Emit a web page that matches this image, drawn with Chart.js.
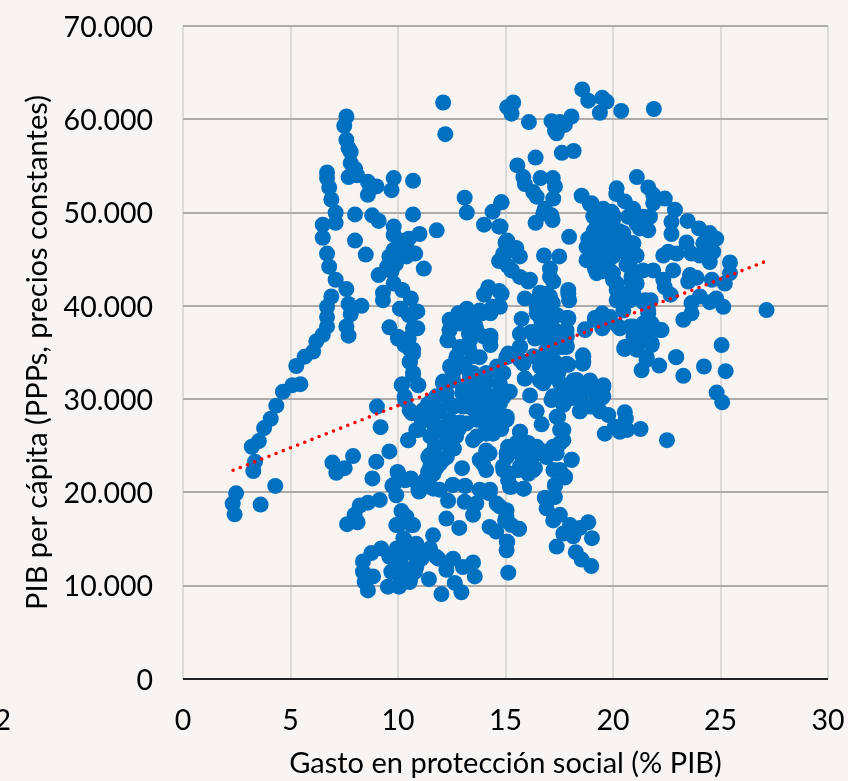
<!DOCTYPE html>
<html><head><meta charset="utf-8">
<style>html,body{margin:0;padding:0;background:#F7F4F1;overflow:hidden}#w{width:848px;height:781px;position:relative}</style>
<script src="https://cdn.jsdelivr.net/npm/chart.js@4"></script></head>
<body><div id="w"><canvas id="c" width="848" height="781"></canvas></div>
<script>
// [gasto % PIB, PIB per cápita in thousands]
const cadenaIzquierda=[[7.6,60.3],[7.5,59.3],[7.6,57.8],[7.7,56.9],[7.8,56.5],[7.8,55.3],[8,54.7],[7.7,53.8],[8.1,54],[8.6,53.3],[9,52.8],[8.6,51.9],[8.7,52.8],[9.8,53.7],[9.7,52.4],[10.7,53.4],[6.7,54.3],[6.7,53.7],[6.8,52.7],[6.9,51.4],[7.1,50],[7.1,48.9],[6.5,48.7],[6.5,47.3],[6.7,45.6],[6.8,44.2],[7.1,42.8],[7.6,41.8],[6.9,41],[6.7,39.9],[6.7,38.8],[6.7,37.8],[6.5,36.9],[6.2,36.2],[7.7,40.2],[8.3,40],[7.8,39.1],[7.6,37.8],[7.7,36.8],[5.27,33.55],[5.66,34.55],[6.05,35.1],[5.46,31.6],[5.09,31.5],[4.65,30.8],[4.34,29.3],[4.08,27.9],[3.77,26.9],[3.53,25.5],[3.2,24.9],[3.35,23.3],[3.27,22.3],[4.29,20.7],[3.61,18.7],[2.47,19.9],[2.31,18.8],[2.4,17.65]];
const grupoDiezCuarenta=[[8,49.8],[8.8,49.7],[9.1,49.1],[8,47],[8.5,45.5],[9.1,43.3],[10.7,49.8],[11.8,48.1],[11,47.7],[11.2,44],[9.8,48.5],[9.8,47.6],[10.1,47],[10.5,47.2],[10.8,45.6],[10.4,45.3],[9.8,46],[10.1,46],[10.4,46.2],[9.6,45.3],[9.5,44.2],[9.9,44.5],[9.7,43.7],[9.8,42.4],[10.2,41.7],[9.3,41.4],[9.3,40.6],[10.6,40.8],[10.1,39.7],[10.9,39.4],[10.5,39],[9.6,37.7],[10.9,37.6],[10,36.5],[10.5,36.5],[10.7,35.3],[10.54,34],[10.7,34.9],[10.3,35.8],[10.7,32.8],[10.93,31.5],[10.2,31.6],[10.31,30.3],[10.54,28.8],[11.16,28.8],[10.85,26.7],[10.47,25.6],[9.02,29.2],[9.19,27],[10.1,39.7],[10.7,39.2],[10.7,37.6],[10,36.7],[10.56,35.3],[10.56,34],[10.7,32.6],[10.17,31.5],[10.95,31.5],[10.33,29.9],[10.64,28.5],[11.18,27.8],[10.48,25.6],[10.95,26.7]];
const grupoDoceCincuenta=[[12.1,61.8],[12.2,58.4],[13.1,51.6],[13.2,50],[14,48.7],[14.7,48.5],[14.4,50.1],[14.8,51.1],[14.2,42],[14,41.2],[14.7,41.6],[14.5,39.9],[14.3,39.2],[13.8,39.5],[13.2,39.7],[12.8,39.2],[12.4,38.5],[13.6,37.9],[12.4,37.4],[12.3,36.3],[14.3,36.8],[14.3,35.8],[13.3,37],[12.9,38.1],[14,36.7],[15,46.8],[15.3,46.2],[14.9,45.2],[14.7,44.8],[15.1,44.3],[15.5,45.8],[15.3,43.8]];
const grupoCentral=[[12.09,31.7],[11.78,30.3],[11.78,28.5],[11.63,27.4],[11.55,26],[11.47,24],[11.4,22.2],[12.25,25.3],[12.09,23.5],[11.78,22.6],[12.7,26],[12.4,27.8],[12.4,29.5],[13.02,29.2],[13.02,31],[12.56,32.8],[12.7,34.2],[12.87,35.6],[13.49,32.8],[13.8,34.5],[13.64,30.3],[13.64,28.1],[13.49,25.6],[14.26,24.2],[13.95,23.1],[14.73,31.7],[15.04,34.5],[14.57,33.1],[14.26,30.3],[14.73,28.5],[14.42,26.3],[15.12,24.9],[14.88,22.8],[15.12,21.3],[13.18,27.4],[13.95,28.1],[12.2,30.4],[13.3,35.4],[13.5,29],[12.9,27.5],[14.1,32],[14.4,29],[13,33.5],[13.6,31.5],[14.9,30.2],[14.8,26.8],[11.4,29.5],[11.1,27.8],[12.1,26.9],[12.6,24.7],[14.1,26.9]];
const rellenoCentral=[[13.2,39.6],[12.9,38.8],[12.5,38.3],[12.4,37.4],[12.34,36.3],[13.5,38.5],[13.9,39.2],[14.4,39.9],[14.3,36.5],[13.35,36.3],[13.66,37.4],[13.1,35.6],[12.73,34.6],[12.42,33.5],[13.1,33.8],[12.1,31.9],[12.58,32],[13.35,32.4],[13.5,34.6],[14.1,32.8],[14.6,33.5],[15.13,34.6],[14.9,32.8],[14,31.3],[14.75,31.3],[15.2,30.8],[13,30.6],[12.27,30.6],[11.65,29.9],[11.3,28.5],[11.95,28.8],[12.6,29.2],[13.35,29.2],[13.97,29.6],[14.75,29.6],[15.06,28.1],[14.44,28.1],[13.66,27.8],[12.73,27.4],[11.95,27],[11.5,26],[12.27,26],[12.8,26.7],[13.66,26],[14.1,26.3],[14.75,27],[15.68,26.5],[15.44,24.9],[16.06,25.1],[16.45,24.2],[16.9,23.8],[17.54,25.3],[17.54,26.7],[17.38,28.1],[18.08,23.5],[17.77,21.7],[17.23,22.4],[17.3,20.8],[17.23,19.5],[16.84,19.4],[15.83,20.4],[15.2,20.6],[14.9,22.4],[15.6,22.4],[16.3,22.4],[15.06,23.8],[15.83,23.5],[14.1,22.4],[13.8,23.5],[14.1,24.5],[14.28,20.3],[13.97,20.1],[13.12,20.7],[12.54,20.8],[11.95,23.1],[11.65,22],[11.41,23.8],[11.72,24.9],[12.27,23.8],[11.5,22.8],[11.26,21.3],[10.6,21.4],[10,22.1],[10.95,20.3],[11.65,20.4],[12.98,22.6]];
const grupoDieciseisSesenta=[[15.36,61.8],[15.08,61.3],[15.28,60.6],[16.09,59.7],[17.14,59.8],[17.53,59.7],[18.07,60.3],[17.76,59.4],[17.3,58.8],[17.38,58.5],[18.57,63.2],[18.85,62],[19.5,62.3],[19.7,61.9],[19.39,60.7],[20.38,60.9],[21.9,61.1],[17.62,56.4],[18.17,56.6],[16.4,55.9],[15.55,55.05],[15.83,53.8],[15.9,53.05],[16.63,53.7],[17.2,53.7],[17.3,52.8],[16.29,52.2],[16.45,51.7],[17.22,51.5],[16.83,50.4],[16.76,49.9],[16.4,48.9],[17.14,49.7],[17.19,49.2],[14.82,51.1],[14.77,48.5],[17.96,47.4]];
const grupoVeinteCincuenta=[[18.54,51.8],[18.93,50.9],[20.17,52.6],[20.15,52],[20.55,51.2],[21.11,53.8],[21.64,52.7],[21.87,51.9],[22.41,51.5],[21.87,51],[22.88,50.3],[22.72,49],[22.72,47.7],[23.47,49.1],[24,48.3],[24.5,47.8],[24.8,47.2],[23.42,46.8],[24.2,46.7],[24.66,45.8],[23.65,45.6],[24.04,45.4],[24.5,44.7],[25.44,44.65],[25.44,43.5],[25.2,42.4],[24.6,42.8],[23.58,43.3],[23.89,43],[23.5,42.6],[22.34,45.4],[22.57,45.8],[22.96,45.6],[22.8,43.8],[21.87,43.8],[21.4,43.8],[22.34,42.8],[22.41,42],[22.68,41.2],[23.65,40.3],[24.5,40.4],[24.8,40.8],[24.04,41],[25.13,39.9],[27.14,39.55],[23.27,38.5],[23.65,39.2],[22.26,37.4],[21.75,40.6],[21.4,40.4],[21.64,39.2],[21.8,38.1],[21.56,37],[21.8,36],[20.55,35.6],[21.17,36],[20.94,37.8],[20.32,37.6],[20.17,40.6],[20.79,40.6],[20.48,41.3],[20.86,42.6],[20.17,42.4],[20,43.5],[19.5,39.2],[19.16,38.7],[19.5,37.6],[18.7,37.5],[19.08,49.6],[19.4,50],[19.93,50.1],[19.55,50.4],[20.02,49.7],[19.24,48.5],[19.7,48.8],[20,49.2],[18.85,47.2],[19.39,47.4],[19.86,47.6],[18.77,46.3],[19.16,46.2],[19.7,46.3],[18.77,44.9],[19.16,44],[19.55,44.9],[20,45.3],[20.48,47.4],[20.86,46.7],[21.1,45.4],[20.63,45.6],[20.63,44.4],[20.94,50.4],[21.4,49.55],[21.72,49.55],[21.64,48.1],[21.1,48.8],[20.71,49.55],[21.25,48.3],[20.86,43.1],[21.1,42.4],[19.3,45.5],[19.5,43.7],[20.2,46.5],[20.3,48],[19.1,48]];
const rellenoVeinte=[[20.95,49.9],[19.24,50.3],[19,51],[20.48,47.8],[20.95,46.7],[20.79,44.2],[19.86,43.8],[19.4,44.2],[19.24,43.5],[20,42.8],[20.17,41.7],[20.95,42.4],[20.95,41.3],[21.49,40.6],[21.64,39.5],[22.18,37.4],[20.56,35.4],[21.1,35.6],[21.57,34.5],[22.93,34.5],[20.25,37.8],[20.79,37.8],[21.4,38.1],[20.95,36.7],[19.55,37.8],[20.48,39.5],[19.86,38.8],[19.4,38.8]];
const grupoDieciseisCuarenta=[[17.92,38.6],[17.92,41.7],[17.96,40.6],[17.22,42.6],[17.07,44],[16.79,45.4],[17.5,45.3],[15.75,38.6],[15.67,37],[16.06,42.6],[15.67,43.1],[15.28,43.8],[15.67,45.3],[15.5,46.2],[15.08,47],[14.9,45.6],[14.82,41.3],[14.74,39.9],[15.9,40.8],[16.45,40.6],[16.76,39.9],[17.07,41],[16.45,39.2],[16.68,38.1],[17.3,37.4],[17.84,37.4],[16.76,36.7],[16.37,36.5],[17.3,36],[17.84,35.8],[16.6,41.4],[17.4,39],[17,38],[16.2,37.2],[16.14,42.8],[17.07,43.1],[17.92,41.3],[16.9,41.3],[17.2,40.3],[16.6,38.8],[17.07,39.2],[17.92,38.7],[17.77,37],[17.85,35.6],[17.07,37.8],[16.6,37.05],[18.62,34.6],[18.62,34],[18.7,37.4],[19.16,38.5],[15.9,32.2],[17.85,33.8],[16.9,33.1],[17.54,31.7],[18.31,32],[18.93,32],[19.55,31.3],[19.55,30.3],[16.45,39.9],[16.9,38.8],[17.85,38.7],[16.6,36.7],[17.07,37.4],[17.85,36.7],[17.54,35.6],[16.9,35.3],[16.3,34.6],[15.83,33.8],[16.6,33.5],[17.38,33.8],[17.9,33.7],[16.6,32],[17.2,32.4],[18.16,32],[18.47,30.3],[17.85,30.6],[17.2,30.3],[19.09,29.2],[18.47,28.7],[15.68,35.6]];
const grupoDieciseisTreinta=[[18.6,34.7],[18.6,33.8],[17.92,33.7],[17.45,32.8],[16.14,30.4],[15.9,32.2],[16.45,28.7],[16.68,27.3],[15.13,34.9],[15.13,30.8],[15.05,27.8],[15.67,26.5],[15.67,35.6],[16.76,31.7],[16.91,32.8],[15.67,34.2],[16.6,34.2],[17.22,34.2],[17.69,35.6],[17.14,29.9],[17.45,28.1],[17.69,26.7],[17.69,25.6],[17.22,24.9],[18.07,23.5],[17.76,21.6],[17.3,20.7],[17.3,19.5],[16.83,19.4],[16.91,18.3],[17.53,17.6],[17.22,17],[18,16.5],[18.85,16.8],[18.46,16.2],[17.69,15.6],[18.15,15.3],[19.02,15.1],[17.38,14.2],[18.27,13.6],[18.54,12.8],[18.99,12.1],[15.13,11.4],[15.05,13.8],[15.08,14.7],[15.62,16.1],[15.05,18.1],[15.86,20.4],[15.28,20.6],[16.37,22.6],[16.06,22],[15.67,22.8],[15.2,22],[16.21,24],[15.67,24.2],[15.05,24.2],[16.45,24.9],[15.51,25.3],[16.06,25.3],[16.76,24.4],[17.38,24.2],[17.53,22.4],[18.46,28.7],[18.93,29.2],[19.39,28.7],[19.78,28.3],[19.62,26.3],[20.09,27.05],[20.32,26.5],[20.66,26.7],[21.28,26.8],[20.6,27.9],[20.55,28.6],[22.51,25.6],[19.55,31.5],[19.47,30.1],[18.93,31.9],[19.16,30.6],[18.6,30.8],[18.23,31.2],[18.07,30.1],[18.46,30.1],[17.69,29.4],[18.31,32.05],[25.05,35.8],[25.24,33],[24.82,30.7],[25.08,29.66],[24.23,33.5],[23.27,32.5],[22.94,34.5],[22.15,33.6],[21.33,33.1],[21.56,34.2],[21.8,35.8],[21.1,35.3],[20.52,35.4]];
const grupoInferior=[[9.6,24.4],[7.91,23.9],[6.95,23.2],[7.52,22.6],[7.13,22.1],[8.99,23.3],[8.81,21.5],[9.98,22.2],[10.6,21.5],[9.74,20.7],[9.92,19.7],[9.15,19.2],[8.6,18.9],[8.22,18.6],[7.98,17.6],[8.12,16.8],[7.63,16.6],[10.16,18],[9.92,16.5],[10.7,16.5],[10.39,17.4],[11.63,15.4],[12.25,17.2],[12.85,16.2],[10.98,20.1],[11.94,20.3],[12.33,19.1],[12.56,20.8],[13.12,20.7],[13.1,19],[13.49,17.6],[13.64,18.8],[13.8,20.3],[14.26,19.9],[14.73,18.5],[14.26,16.3],[14.57,15.8],[15.04,17.4],[15.27,16.5],[10.31,14.9],[10.23,14.2],[10.85,14.5],[11.32,13.5],[11.78,13.1],[12.56,12.9],[13.49,12.5],[13.57,11],[12.95,9.3],[12.02,9.1],[12.64,10.3],[12.25,11.7],[13.02,12],[11.44,10.7],[10.54,10.4],[10.05,9.9],[9.53,9.9],[10.08,11],[9.69,11.5],[10.85,12],[11.09,12.9],[9.92,12.75],[9.22,14],[8.76,13.5],[8.37,12.6],[8.37,11.5],[8.84,11],[8.45,10.4],[8.6,9.5],[9.6,13.1],[10.39,13.5],[10.23,12],[9.79,20.8],[10.33,21.3],[11.49,20.6],[10.02,16.5],[10.64,16.5],[10.25,15.1],[9.94,14],[10.56,13.8],[11.03,13.8],[11.49,14],[11.88,12.9],[10.87,12.4],[10.1,12.6],[9.71,11.5],[10.56,10.6],[10.79,11.5],[14.59,18.8],[14.98,17],[15.63,16.1],[15.06,14.7]];
const tendenciaX=[2.33,27.02];
const tendenciaY=[22370,44700];
const xTicks=[0,5,10,15,20,25,30];
const yTicks=[0,10000,20000,30000,40000,50000,60000,70000];
const tituloX='Gasto en protección social (% PIB)';
const tituloY='PIB per cápita (PPPs, precios constantes)';
const etiquetaSuelta='2';

const puntos=[cadenaIzquierda,grupoDiezCuarenta,grupoDoceCincuenta,grupoCentral,rellenoCentral,grupoDieciseisSesenta,grupoVeinteCincuenta,rellenoVeinte,grupoDieciseisCuarenta,grupoDieciseisTreinta,grupoInferior].flat().map(([x,y])=>({x,y:y*1000}));
const fontFam='Lato';
const sinRelleno=s=>{s.paddingTop=0;s.paddingBottom=0;s.paddingLeft=0;s.paddingRight=0;};
const suelta={id:'suelta',afterDraw(ch){const c=ch.ctx;c.save();c.font='28.5px '+fontFam;c.fillStyle='#000';c.textAlign='right';c.textBaseline='middle';c.fillText(etiquetaSuelta,11,721);c.restore();}};
new Chart(document.getElementById('c'),{type:'scatter',plugins:[suelta],data:{datasets:[
{label:'Países',data:puntos,backgroundColor:'#0070C0',borderColor:'#0070C0',pointRadius:8,pointHoverRadius:8,borderWidth:0,order:2},
{label:'Tendencia',data:tendenciaX.map((x,i)=>({x,y:tendenciaY[i]})),showLine:true,pointRadius:0,borderColor:'#FF0000',borderWidth:3.6,borderCapStyle:'round',borderDash:[0,7.7],order:1}
]},options:{responsive:false,animation:false,layout:{padding:{top:26,right:20,left:0,bottom:0}},
plugins:{legend:{display:false},tooltip:{enabled:false}},
scales:{
x:{type:'linear',min:0,max:30,afterFit(s){s.height=102;sinRelleno(s);},afterBuildTicks(s){s.ticks=xTicks.map(v=>({value:v}));},
 grid:{color:'#DDDBD8',lineWidth:2,drawTicks:false},border:{display:false},
 ticks:{color:'#000',font:{family:fontFam,size:28.5},padding:25,maxRotation:0,callback:v=>String(v)},
 title:{display:true,text:tituloX,color:'#000',font:{family:fontFam,size:29},padding:{top:8,bottom:0}}},
y:{type:'linear',min:0,max:70000,afterFit(s){s.width=183;sinRelleno(s);},afterBuildTicks(s){s.ticks=yTicks.map(v=>({value:v}));},
 grid:{color:c=>c.tick&&c.tick.value===0?'#222':'#ADACAB',lineWidth:2,drawTicks:false},border:{display:false},
 ticks:{color:'#000',font:{family:fontFam,size:28.5},padding:30,labelOffset:1.5,callback:v=>v===0?'0':String(v).replace(/(\d)(?=(\d{3})$)/,'$1.')},
 title:{display:true,text:tituloY,color:'#000',font:{family:fontFam,size:29},padding:{top:20,bottom:0}}}
}}});
</script></body></html>
